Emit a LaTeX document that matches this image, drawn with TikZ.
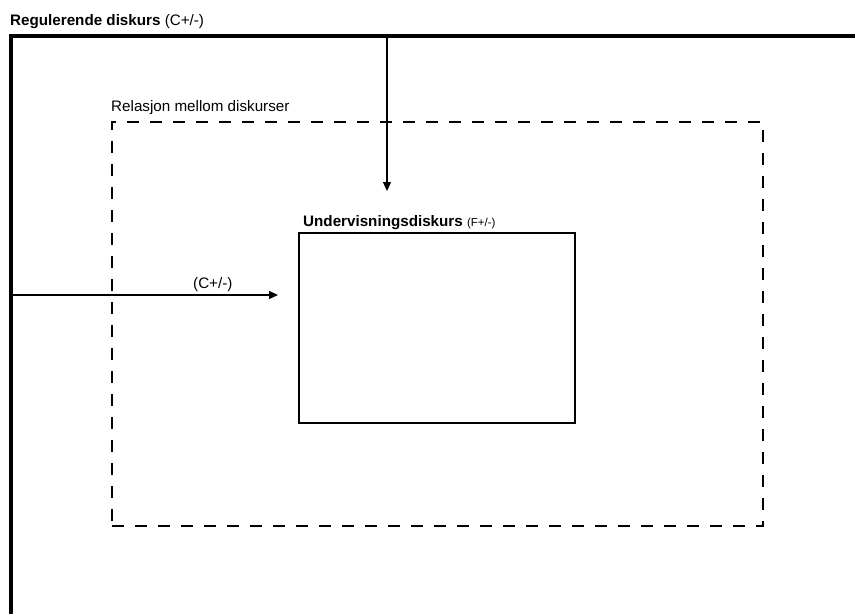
\documentclass[tikz,border=0pt]{standalone}
\usepackage{fontspec}
\setmainfont{Liberation Sans}
\usetikzlibrary{arrows.meta}
\begin{document}
\begin{tikzpicture}[x=1pt,y=-1pt,
  frame/.style={line width=4pt},
  dashbox/.style={line width=1.8pt,dash pattern=on 12pt off 11pt},
  innerbox/.style={line width=1.6pt},
  arr/.style={line width=1.3pt,-{Triangle[length=9pt,width=8pt]}},
  lbl/.style={inner sep=0pt,anchor=base west,font=\fontsize{15.2}{18}\selectfont}]
\useasboundingbox (0,0) rectangle (855,614);
\coordinate (fbl) at (11,614);
\coordinate (ftl) at (11,36);
\coordinate (ftr) at (855,36);
\draw[frame] (fbl) -- (ftl) -- (ftr);
\node[lbl] (title) at (10,25) {\textbf{Regulerende diskurs} (C+/-)};
\node[draw,dashbox,minimum width=651pt,minimum height=404pt,anchor=north west,inner sep=0pt] (rel) at (111,121) {};
\node[lbl] (rellbl) at (111,111) {Relasjon mellom diskurser};
\node[draw,innerbox,minimum width=276pt,minimum height=190pt,anchor=north west,inner sep=0pt] (und) at (298,232) {};
\node[lbl] (undlbl) at (303,226) {\textbf{Undervisningsdiskurs} {\fontsize{11.5}{13}\selectfont(F+/-)}};
\coordinate (vtop) at (387,36);
\coordinate (vend) at (387,191);
\draw[arr] (vtop) -- (vend);
\coordinate (hstart) at (11,295);
\coordinate (hend) at (278,295);
\draw[arr] (hstart) -- (hend);
\node[lbl] (clbl) at (193,288) {(C+/-)};
\end{tikzpicture}
\end{document}
